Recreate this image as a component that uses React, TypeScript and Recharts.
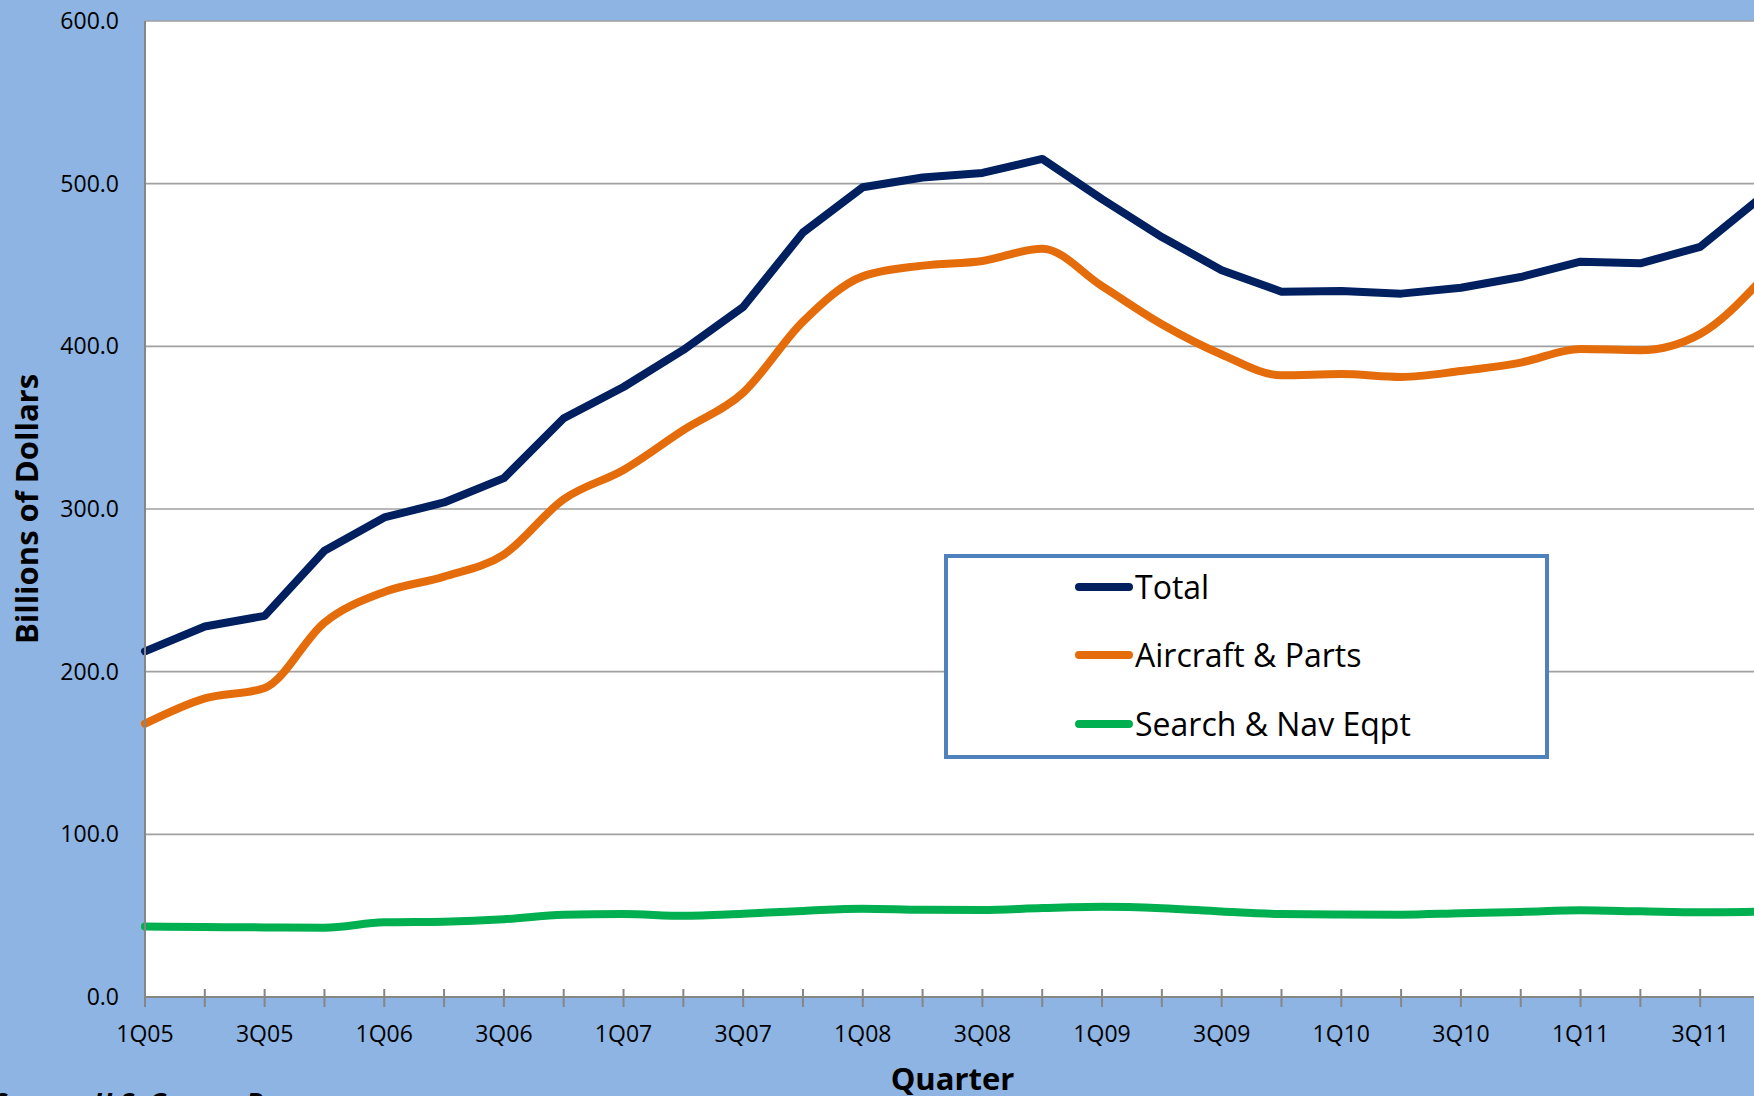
import React from 'react';
import { LineChart, Line, XAxis, YAxis, CartesianGrid, Legend, Label } from 'recharts';

const quarters = [
  '1Q05', '2Q05', '3Q05', '4Q05',
  '1Q06', '2Q06', '3Q06', '4Q06',
  '1Q07', '2Q07', '3Q07', '4Q07',
  '1Q08', '2Q08', '3Q08', '4Q08',
  '1Q09', '2Q09', '3Q09', '4Q09',
  '1Q10', '2Q10', '3Q10', '4Q10',
  '1Q11', '2Q11', '3Q11', '4Q11',
];

const total = [
  212.5, 227.8, 234.3, 274.3,
  294.8, 304.0, 319.0, 355.8,
  375.0, 397.8, 424.2, 470.0,
  497.8, 503.8, 506.6, 515.2,
  490.5, 467.2, 446.8, 433.6,
  434.0, 432.4, 436.0, 442.6,
  452.0, 451.0, 461.2, 491.0,
];

const aircraft = [
  168.0, 183.6, 190.0, 230.2,
  249.0, 258.4, 272.0, 306.0,
  324.0, 348.5, 371.5, 415.2,
  443.0, 449.6, 452.5, 460.0,
  437.0, 413.6, 395.0, 382.2,
  383.0, 381.2, 384.8, 390.0,
  398.4, 397.6, 407.6, 440.0,
];

const searchNav = [
  43.4, 43.0, 42.8, 42.6,
  45.9, 46.3, 47.8, 50.6,
  51.0, 49.9, 51.2, 52.9,
  54.3, 53.6, 53.5, 54.7,
  55.5, 54.6, 52.6, 51.0,
  50.7, 50.6, 51.5, 52.3,
  53.3, 52.7, 52.1, 52.5,
];

const yTicks = [0, 100, 200, 300, 400, 500, 600];

const seriesNames = ['Total', 'Aircraft & Parts', 'Search & Nav Eqpt'];
const seriesKeys = ['total', 'aircraft', 'searchNav'];
const seriesColors = ['#002060', '#E46C0A', '#00B050'];
const seriesCurves: ('linear' | 'monotone')[] = ['linear', 'monotone', 'monotone'];

const data = quarters.map((q, i) => ({
  q,
  total: total[i],
  aircraft: aircraft[i],
  searchNav: searchNav[i],
}));

const FONT = '"Open Sans", sans-serif';
const AXIS_GRAY = '#868686';

const XTick = (props: any) => {
  const { x, y, payload } = props;
  const v: string = payload.value;
  const show = v.startsWith('1') || v.startsWith('3');
  return (
    <g>
      <line x1={x} x2={x} y1={y - 8} y2={y + 10} stroke={AXIS_GRAY} strokeWidth={2} />
      {show && (
        <text x={x} y={y + 45} textAnchor="middle" fontSize={23} fontFamily={FONT} fill="#000">
          {v}
        </text>
      )}
    </g>
  );
};

const YTitle = () => (
  <text
    x={38}
    y={509}
    transform="rotate(-90 38 509)"
    textAnchor="middle"
    fontSize={31}
    fontWeight={700}
    fontFamily={FONT}
    fill="#000"
  >
    Billions of Dollars
  </text>
);

const rowCenters = [33, 101, 170];

const renderLegend = () => (
  <div
    style={{
      position: 'relative',
      width: 605,
      height: 205,
      boxSizing: 'border-box',
      border: '4px solid #4F81BD',
      background: '#fff',
      fontFamily: FONT,
    }}
  >
    {seriesNames.map((name, i) => (
      <div
        key={name}
        style={{
          position: 'absolute',
          left: 127,
          top: rowCenters[i] - 4 - 22,
          height: 44,
          display: 'flex',
          alignItems: 'center',
          whiteSpace: 'nowrap',
        }}
      >
        <div
          style={{
            width: 58,
            height: 8,
            borderRadius: 4,
            background: seriesColors[i],
            marginRight: 2,
          }}
        />
        <span style={{ fontSize: 32, color: '#000', lineHeight: '44px' }}>{name}</span>
      </div>
    ))}
  </div>
);

export default function App() {
  return (
    <div
      style={{
        position: 'absolute',
        left: 0,
        top: 0,
        width: 1754,
        height: 1096,
        overflow: 'hidden',
        background: '#8DB4E2',
        fontFamily: FONT,
      }}
    >
      <LineChart
        width={1790}
        height={1096}
        data={data}
        margin={{ top: 21, right: 30, bottom: 0, left: 0 }}
      >
        <CartesianGrid vertical={false} stroke="#A0A0A0" strokeWidth={1.6} fill="#FFFFFF" />
        <XAxis
          dataKey="q"
          interval={0}
          height={99}
          tickSize={0}
          tickMargin={0}
          tickLine={false}
          axisLine={{ stroke: AXIS_GRAY, strokeWidth: 2 }}
          tick={<XTick />}
        >
          <Label
            value="Quarter"
            position="insideBottom"
            offset={6}
            style={{ fontSize: 31, fontWeight: 700, fontFamily: FONT, fill: '#000' }}
          />
        </XAxis>
        <YAxis
          width={145}
          domain={[0, 600]}
          ticks={yTicks}
          interval={0}
          tickSize={0}
          tickMargin={26}
          tickLine={false}
          axisLine={{ stroke: AXIS_GRAY, strokeWidth: 2 }}
          tickFormatter={(v: number) => v.toFixed(1)}
          tick={{ fontSize: 23, fontFamily: FONT, fill: '#000' }}
          label={<YTitle />}
        />
        <Legend
          layout="vertical"
          align="center"
          verticalAlign="middle"
          wrapperStyle={{ left: 944, top: 554, width: 605, height: 205 }}
          content={renderLegend}
        />
        {seriesKeys.map((k, i) => (
          <Line
            key={k}
            type={seriesCurves[i]}
            dataKey={k}
            name={seriesNames[i]}
            stroke={seriesColors[i]}
            strokeWidth={8}
            strokeLinejoin="round"
            strokeLinecap="round"
            dot={false}
            activeDot={false}
            isAnimationActive={false}
          />
        ))}
      </LineChart>
      <div
        style={{
          position: 'absolute',
          left: -7,
          top: 1088,
          fontSize: 27,
          lineHeight: '27px',
          fontWeight: 700,
          fontStyle: 'italic',
          color: '#000',
          whiteSpace: 'nowrap',
        }}
      >
        Source: U.S. Census Bureau
      </div>
    </div>
  );
}
